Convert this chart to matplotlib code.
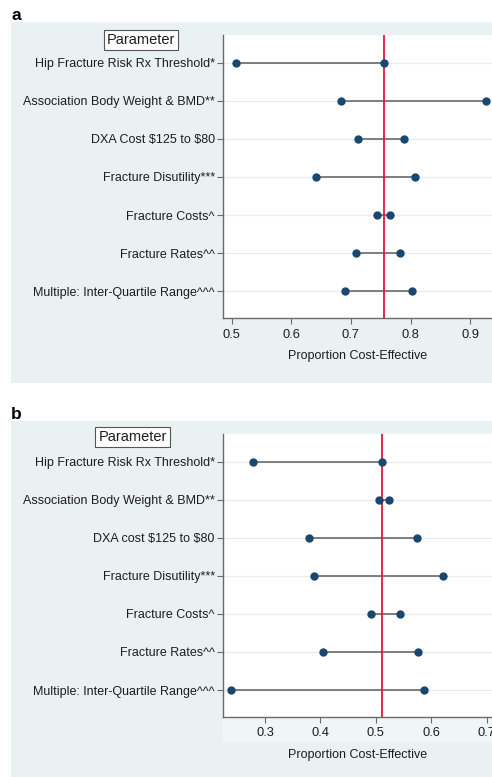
import numpy as np
import matplotlib
matplotlib.use("Agg")
import matplotlib.pyplot as plt
from matplotlib.patches import Rectangle

plt.rcParams['font.family'] = ['Liberation Sans', 'DejaVu Sans']

params_a = ["Hip Fracture Risk Rx Threshold*", "Association Body Weight & BMD**",
            r"DXA Cost \$125 to \$80", "Fracture Disutility***", "Fracture Costs^",
            "Fracture Rates^^", "Multiple: Inter-Quartile Range^^^"]
params_b = ["Hip Fracture Risk Rx Threshold*", "Association Body Weight & BMD**",
            r"DXA cost \$125 to \$80", "Fracture Disutility***", "Fracture Costs^",
            "Fracture Rates^^", "Multiple: Inter-Quartile Range^^^"]

low_a = [0.507, 0.683, 0.712, 0.642, 0.744, 0.708, 0.690]
high_a = [0.756, 0.927, 0.789, 0.808, 0.766, 0.782, 0.802]
base_a = 0.756
ticks_a = [0.5, 0.6, 0.7, 0.8, 0.9]

low_b = [0.278, 0.506, 0.380, 0.388, 0.491, 0.404, 0.239]
high_b = [0.512, 0.523, 0.575, 0.621, 0.544, 0.576, 0.587]
base_b = 0.512
ticks_b = [0.3, 0.4, 0.5, 0.6, 0.7]

W, H = 492, 777
bg = '#e9f1f3'
navy = '#1a476f'
red = '#e4173f'

fig = plt.figure(figsize=(W / 100, H / 100), dpi=100)
fig.patch.set_facecolor('white')


def px(x0, y0, x1, y1):
    # pixel box (top-left origin) -> figure fraction rect
    return [x0 / W, 1 - y1 / H, (x1 - x0) / W, (y1 - y0) / H]


def panel(letter, labels, low, high, base, ticks, xlim, ylim, bg_box, ax_box,
          box_xy, letter_y, under_box=None):
    r = px(*bg_box)
    fig.patches.append(Rectangle((r[0], r[1]), r[2], r[3], transform=fig.transFigure,
                                 facecolor=bg, edgecolor='none', zorder=-2))
    if under_box is not None:
        u = px(*under_box)
        fig.patches.append(Rectangle((u[0], u[1]), u[2], u[3], transform=fig.transFigure,
                                     facecolor='#f0f5f6', edgecolor='none', zorder=-1))
    fig.text(11 / W, 1 - letter_y / H, letter, fontsize=12.5, fontweight='bold',
             va='center', ha='left', color='black')
    ax = fig.add_axes(px(*ax_box))
    ax.set_facecolor('white')
    y = np.arange(1, len(labels) + 1)
    for yy in y:
        ax.axhline(yy, color='#e4edf0', lw=1.0, zorder=1)
    ax.hlines(y, low, high, color='#6a6a6a', lw=1.2, zorder=2)
    ax.axvline(base, color=red, lw=1.3, zorder=3)
    ax.plot(low, y, 'o', color=navy, ms=5, zorder=4)
    ax.plot(high, y, 'o', color=navy, ms=5, zorder=4)
    ax.set_xlim(*xlim)
    ax.set_ylim(*ylim)
    ax.set_yticks(y)
    ax.set_yticklabels(labels, fontsize=9, color='#1e1e1e')
    ax.set_xticks(ticks)
    ax.set_xticklabels([f"{t:.1f}" for t in ticks], fontsize=9.3, color='#1e1e1e')
    ax.set_xlabel("Proportion Cost-Effective", fontsize=9, color='#1e1e1e', labelpad=7)
    for s in ['top', 'right']:
        ax.spines[s].set_visible(False)
    for s in ['left', 'bottom']:
        ax.spines[s].set_color('#6a6a6a')
        ax.spines[s].set_linewidth(1.0)
    ax.tick_params(axis='y', length=4, width=0.8, color='#6a6a6a', pad=2)
    ax.tick_params(axis='x', length=4, width=0.8, color='#6a6a6a', pad=3.5)
    fig.text(box_xy[0] / W, 1 - box_xy[1] / H, "Parameter", fontsize=10.5,
             ha='center', va='center_baseline', color='#1e1e1e',
             bbox=dict(boxstyle='square,pad=0.2', facecolor='white',
                       edgecolor='#555555', lw=0.8))
    return ax


panel('a', params_a, low_a, high_a, base_a, ticks_a, (0.4854, 0.9367), (7.709, 0.273),
      (11, 22, 492, 383.3), (223, 35, 492, 318.3), (141, 38.5), 15)
panel('b', params_b, low_b, high_b, base_b, ticks_b, (0.2242, 0.7096), (7.70, 0.28),
      (11, 421, 492, 777), (223, 434.3, 492, 716.7), (132.5, 435.5), 414,
      under_box=(223, 716.7, 492, 743))

fig.savefig("out.png", dpi=100)
